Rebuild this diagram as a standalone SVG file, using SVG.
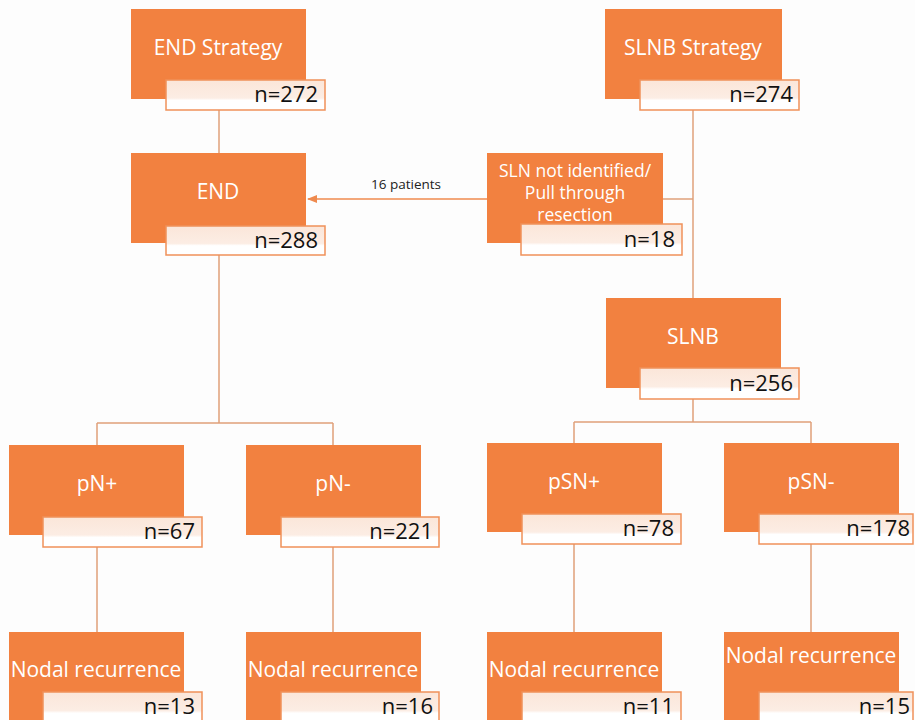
<svg xmlns="http://www.w3.org/2000/svg" width="915" height="720" viewBox="0 0 915 720">
<defs>
<linearGradient id="lg" x1="0" y1="0" x2="0" y2="1">
<stop offset="0" stop-color="#FBE6D9"/>
<stop offset="0.6" stop-color="#FCEDE4"/>
<stop offset="0.68" stop-color="#FFFFFF"/>
<stop offset="1" stop-color="#FFFFFF"/>
</linearGradient>
<marker id="ah" markerWidth="10" markerHeight="8" refX="9" refY="4" orient="auto" markerUnits="userSpaceOnUse">
<path d="M0,0 L10,4 L0,8 z" fill="#EF8A4E"/>
</marker>
<style>
.box{fill:#F28140;}
.lab{fill:url(#lg);stroke:#F0915A;stroke-width:1.5;}
.t{fill:#FFFFFF;font-family:"Open Sans","Liberation Sans",sans-serif;font-size:21px;text-anchor:middle;}
.n{fill:#111111;font-family:"Open Sans","Liberation Sans",sans-serif;font-size:22px;text-anchor:end;}
.c{fill:none;stroke:#DFA07A;stroke-width:1.5;}
</style>
</defs>
<rect width="915" height="720" fill="#FDFDFD"/>
<g id="connectors">
<path class="c" d="M219,110 V153"/>
<path class="c" d="M693,110 V298"/>
<path class="c" d="M663,199 H693"/>
<path d="M487,199 H308" fill="none" stroke="#EF8A4E" stroke-width="1.5" marker-end="url(#ah)"/>
<text x="406" y="189" font-family="Open Sans, Liberation Sans, sans-serif" font-size="13.5" text-anchor="middle" fill="#222">16 patients</text>
<path class="c" d="M219,255 V423 M97,423 H333 M97,423 V445 M333,423 V445"/>
<path class="c" d="M693,399 V422 M574,422 H811 M574,422 V443 M811,422 V443"/>
<path class="c" d="M97,547 V632 M333,547 V632 M574,544 V632 M811,544 V632"/>
</g>
<g id="end-strategy">
<rect class="box" x="131" y="9" width="175" height="90"/>
<text class="t" x="218" y="55">END Strategy</text>
<rect class="lab" x="166" y="80" width="159" height="30"/>
<text class="n" x="318" y="102">n=272</text>
</g>
<g id="slnb-strategy">
<rect class="box" x="605" y="9" width="177" height="90"/>
<text class="t" x="693" y="55">SLNB Strategy</text>
<rect class="lab" x="640" y="80" width="159" height="30"/>
<text class="n" x="793" y="102">n=274</text>
</g>
<g id="end">
<rect class="box" x="131" y="153" width="175" height="90"/>
<text class="t" x="218" y="199">END</text>
<rect class="lab" x="166" y="226" width="159" height="29"/>
<text class="n" x="318" y="248">n=288</text>
</g>
<g id="sln-not-identified">
<rect class="box" x="487" y="153" width="176" height="90"/>
<text class="t" x="575" y="177" style="font-size:17.5px">SLN not identified/</text>
<text class="t" x="575" y="199" style="font-size:17.5px">Pull through</text>
<text class="t" x="575" y="221" style="font-size:17.5px">resection</text>
<rect class="lab" x="521" y="224" width="161" height="31"/>
<text class="n" x="675" y="247">n=18</text>
</g>
<g id="slnb">
<rect class="box" x="606" y="298" width="175" height="90"/>
<text class="t" x="693" y="344">SLNB</text>
<rect class="lab" x="640" y="368" width="159" height="31"/>
<text class="n" x="793" y="391">n=256</text>
</g>
<g id="pn-plus">
<rect class="box" x="9" y="445" width="175" height="90"/>
<text class="t" x="97" y="491">pN+</text>
<rect class="lab" x="43" y="517" width="159" height="30"/>
<text class="n" x="195" y="539">n=67</text>
</g>
<g id="pn-minus">
<rect class="box" x="246" y="445" width="175" height="90"/>
<text class="t" x="333" y="491">pN-</text>
<rect class="lab" x="281" y="517" width="158" height="30"/>
<text class="n" x="433" y="539">n=221</text>
</g>
<g id="psn-plus">
<rect class="box" x="487" y="443" width="175" height="89"/>
<text class="t" x="574" y="489">pSN+</text>
<rect class="lab" x="522" y="514" width="159" height="30"/>
<text class="n" x="674" y="536">n=78</text>
</g>
<g id="psn-minus">
<rect class="box" x="724" y="443" width="175" height="89"/>
<text class="t" x="811" y="489">pSN-</text>
<rect class="lab" x="759" y="514" width="154" height="30"/>
<text class="n" x="910" y="536">n=178</text>
</g>
<g id="nodal-1">
<rect class="box" x="9" y="632" width="175" height="90"/>
<text class="t" x="96" y="677">Nodal recurrence</text>
<rect class="lab" x="43" y="692" width="159" height="31"/>
<text class="n" x="195" y="714">n=13</text>
</g>
<g id="nodal-2">
<rect class="box" x="246" y="632" width="175" height="90"/>
<text class="t" x="333" y="677">Nodal recurrence</text>
<rect class="lab" x="281" y="692" width="158" height="31"/>
<text class="n" x="433" y="714">n=16</text>
</g>
<g id="nodal-3">
<rect class="box" x="487" y="632" width="175" height="90"/>
<text class="t" x="574" y="677">Nodal recurrence</text>
<rect class="lab" x="522" y="692" width="159" height="31"/>
<text class="n" x="674" y="714">n=11</text>
</g>
<g id="nodal-4">
<rect class="box" x="724" y="632" width="175" height="90"/>
<text class="t" x="811" y="663">Nodal recurrence</text>
<rect class="lab" x="759" y="692" width="154" height="31"/>
<text class="n" x="910" y="714">n=15</text>
</g>
</svg>
